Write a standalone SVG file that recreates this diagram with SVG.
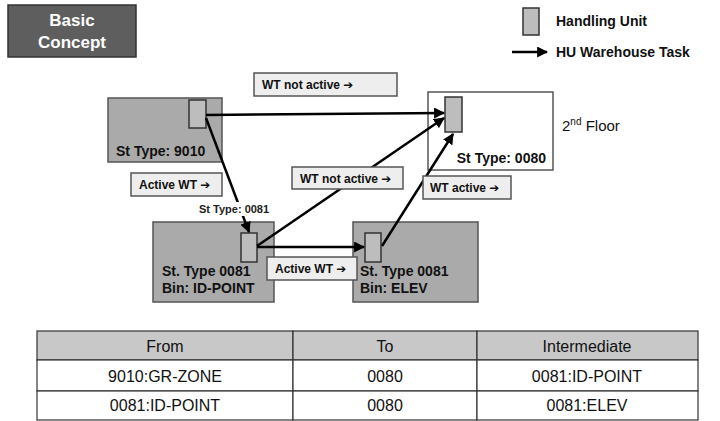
<svg xmlns="http://www.w3.org/2000/svg" width="720" height="421" viewBox="0 0 720 421">
<defs>
<marker id="ah" viewBox="0 0 10 10" refX="9" refY="5" markerWidth="4.4" markerHeight="4.4" orient="auto" markerUnits="strokeWidth">
<path d="M0,0 L10,5 L0,10 z" fill="#000"/>
</marker>
<style>
.t{font-family:"Liberation Sans","DejaVu Sans",Arial,sans-serif}
.b{font-weight:bold}
.area{fill:#aaaaaa;stroke:#555;stroke-width:1.5}
.white{fill:#fff;stroke:#555;stroke-width:1.5}
.hu{fill:#bdbdbd;stroke:#333;stroke-width:1.5}
.lbl{fill:#eeeeee;stroke:#555;stroke-width:1.5}
.lt{font-size:12px;font-weight:bold;fill:#111}
.nt{font-size:14px;font-weight:bold;fill:#111}
.conn{stroke:#000;stroke-width:2.5;fill:none;marker-end:url(#ah)}
.cell{fill:#fff;stroke:#333;stroke-width:1.2}
.hd{fill:#c8c8c8;stroke:#333;stroke-width:1.2}
.tt{font-size:16px;fill:#111;text-anchor:middle}
</style>
</defs>
<rect width="720" height="421" fill="#fff"/>

<g id="title">
<rect x="8" y="5" width="128" height="52" fill="#5e5e5e" stroke="#333" stroke-width="1.5"/>
<text class="t b" x="72" y="26" font-size="17" fill="#fff" text-anchor="middle">Basic</text>
<text class="t b" x="72" y="48" font-size="17" fill="#fff" text-anchor="middle">Concept</text>
</g>

<g id="legend">
<rect class="hu" x="523" y="8" width="16" height="27"/>
<text class="t b" x="556" y="26" font-size="14" fill="#111">Handling Unit</text>
<line x1="512" y1="52" x2="547" y2="52" stroke="#000" stroke-width="2.5" marker-end="url(#ah)"/>
<text class="t b" x="556" y="57" font-size="14" fill="#111">HU Warehouse Task</text>
</g>

<g id="st9010">
<rect class="area" x="108" y="98" width="114" height="64"/>
<rect class="hu" x="189" y="100" width="17" height="28"/>
<text class="t nt" x="116" y="156">St Type: 9010</text>
</g>

<g id="st0080">
<rect class="white" x="428" y="92" width="125" height="78"/>
<rect class="hu" x="445" y="97" width="17" height="35"/>
<text class="t nt" x="546" y="163" text-anchor="end">St Type: 0080</text>
</g>

<g id="floor">
<text class="t" x="562" y="131" font-size="15" fill="#111">2<tspan font-size="10" dy="-6">nd</tspan><tspan dy="6"> Floor</tspan></text>
</g>

<g id="idpoint">
<rect class="area" x="153" y="222" width="121" height="80"/>
<rect class="hu" x="241" y="233" width="16" height="29"/>
<text class="t nt" x="162" y="276">St. Type 0081</text>
<text class="t nt" x="162" y="293">Bin: ID-POINT</text>
</g>

<g id="elev">
<rect class="area" x="353" y="222" width="125" height="80"/>
<rect class="hu" x="365" y="233" width="16" height="29"/>
<text class="t nt" x="360" y="276">St. Type 0081</text>
<text class="t nt" x="360" y="293">Bin: ELEV</text>
</g>

<g id="connectors">
<line class="conn" x1="206" y1="115" x2="444" y2="113"/>
<line class="conn" x1="206" y1="118" x2="249" y2="232"/>
<line class="conn" x1="257" y1="246" x2="444" y2="118"/>
<line class="conn" x1="257" y1="247" x2="364" y2="247"/>
<line class="conn" x1="382" y1="246" x2="453" y2="134"/>
</g>

<g id="label-notactive-top">
<rect class="lbl" x="254" y="73" width="143" height="23"/>
<text class="t lt" x="262" y="89">WT not active ➔</text>
</g>
<g id="label-active-1">
<rect class="lbl" x="131" y="173" width="91" height="23"/>
<text class="t lt" x="139" y="189">Active WT ➔</text>
</g>
<g id="label-0081">
<rect x="197" y="202" width="80" height="14" fill="#fff"/>
<text class="t b" x="199" y="213" font-size="11" fill="#222">St Type: 0081</text>
</g>
<g id="label-notactive-mid">
<rect class="lbl" x="292" y="167" width="111" height="22"/>
<text class="t lt" x="300" y="183">WT not active ➔</text>
</g>
<g id="label-wtactive">
<rect class="lbl" x="423" y="176" width="88" height="23"/>
<text class="t lt" x="430" y="192">WT active ➔</text>
</g>
<g id="label-active-2">
<rect class="lbl" x="267" y="257" width="90" height="23"/>
<text class="t lt" x="275" y="273">Active WT ➔</text>
</g>

<g id="table">
<rect class="hd" x="37" y="331" width="256" height="29"/>
<rect class="hd" x="293" y="331" width="184" height="29"/>
<rect class="hd" x="477" y="331" width="221" height="29"/>
<rect class="cell" x="37" y="360" width="256" height="31"/>
<rect class="cell" x="293" y="360" width="184" height="31"/>
<rect class="cell" x="477" y="360" width="221" height="31"/>
<rect class="cell" x="37" y="391" width="256" height="29"/>
<rect class="cell" x="293" y="391" width="184" height="29"/>
<rect class="cell" x="477" y="391" width="221" height="29"/>
<text class="t tt" x="165" y="352">From</text>
<text class="t tt" x="385" y="352">To</text>
<text class="t tt" x="587" y="352">Intermediate</text>
<text class="t tt" x="165" y="382">9010:GR-ZONE</text>
<text class="t tt" x="385" y="382">0080</text>
<text class="t tt" x="587" y="382">0081:ID-POINT</text>
<text class="t tt" x="165" y="411">0081:ID-POINT</text>
<text class="t tt" x="385" y="411">0080</text>
<text class="t tt" x="587" y="411">0081:ELEV</text>
</g>
</svg>
